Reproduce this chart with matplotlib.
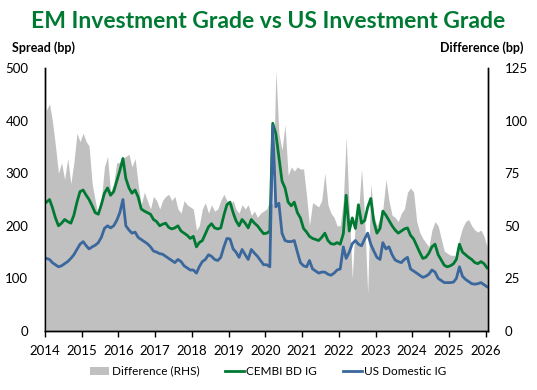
import matplotlib
matplotlib.use("Agg")

import matplotlib.pyplot as plt
import matplotlib.dates as mdates
from matplotlib.patches import Patch
from matplotlib.lines import Line2D
import numpy as np
import pandas as pd

# Monthly readings (mid-month), Jan 2014 .. Jan 2026
dates = pd.date_range("2014-01-01", "2026-01-01", freq="MS") + pd.Timedelta(days=14)

cembi_ig = [
    # 2014
    245, 250, 235, 215, 200, 205, 212, 208, 205, 220, 245, 265,
    # 2015
    268, 258, 250, 238, 225, 222, 240, 262, 272, 258, 265, 285,
    # 2016
    305, 328, 290, 272, 262, 268, 255, 232, 228, 225, 222, 212,
    # 2017
    208, 200, 203, 205, 197, 194, 196, 200, 190, 186, 182, 176,
    # 2018
    180, 160, 168, 172, 185, 198, 204, 196, 194, 196, 220, 240,
    # 2019
    245, 225, 210, 200, 212, 205, 196, 212, 205, 200, 192, 185,
    # 2020
    186, 190, 395, 375, 330, 285, 272, 245, 238, 245, 225, 215,
    # 2021
    195, 188, 180, 176, 174, 172, 178, 186, 172, 166, 165, 168,
    # 2022
    165, 185, 258, 190, 215, 195, 240, 205, 210, 235, 252, 208,
    # 2023
    186, 195, 228, 220, 210, 200, 192, 186, 190, 194, 196, 182,
    # 2024
    175, 162, 150, 138, 140, 148, 160, 165, 145, 135, 125, 122,
    # 2025
    124, 128, 136, 165, 150, 145, 140, 136, 130, 128, 132, 128,
    # 2026
    120,
]

us_ig = [
    138, 136, 130, 126, 122, 124, 128, 132, 138, 145, 155, 165,
    170, 162, 156, 160, 163, 168, 178, 195, 200, 196, 200, 210,
    225, 250, 200, 192, 186, 188, 178, 174, 170, 166, 160, 152,
    150, 147, 146, 142, 138, 134, 130, 136, 132, 124, 120, 116,
    116, 110, 122, 132, 136, 145, 142, 136, 134, 140, 160, 176,
    175, 156, 150, 140, 155, 145, 136, 155, 148, 142, 134, 126,
    126, 122, 390, 236, 243, 186, 172, 170, 170, 172, 150, 130,
    124, 122, 134, 118, 114, 110, 112, 112, 108, 106, 110, 116,
    118, 160, 138, 150, 166, 172, 165, 162, 175, 186, 165, 152,
    140, 136, 168, 156, 160, 145, 135, 132, 130, 136, 140, 118,
    114, 110, 106, 102, 104, 108, 116, 112, 100, 96, 92, 92,
    92, 93, 100, 122, 104, 98, 94, 90, 89, 90, 92, 88,
    84,
]

difference = [
    105, 108, 100, 88, 75, 80, 72, 82, 70, 80, 94, 90,
    94, 90, 88, 70, 62, 55, 62, 78, 83, 66, 70, 80,
    80, 82, 83, 84, 78, 82, 70, 60, 66, 62, 58, 64,
    62, 58, 62, 64, 65, 62, 64, 58, 56, 62, 60, 59,
    58, 48, 50, 58, 61, 56, 60, 57, 58, 62, 65, 62,
    60, 62, 58, 56, 60, 58, 60, 55, 57, 54, 56, 57,
    58, 62, 60, 124, 94, 86, 98, 74, 78, 76, 78, 77,
    77, 64, 50, 61, 60, 59, 62, 75, 60, 56, 54, 50,
    50, 62, 92, 57, 25, 53, 56, 77, 54, 18, 70, 55,
    50, 54, 58, 72, 62, 55, 54, 52, 56, 58, 66, 68,
    66, 52, 47, 44, 42, 40, 48, 52, 50, 44, 38, 37,
    36, 36, 35, 44, 49, 52, 53, 50, 48, 47, 48, 45,
    40,
]

left_ticks = [0, 100, 200, 300, 400, 500]
right_ticks = [0, 25, 50, 75, 100, 125]

GREEN = "#007A33"
BLUE = "#3A679C"
GREY = "#C0C0C0"

plt.rcParams["font.family"] = ["Lato", "DejaVu Sans"]

fig = plt.figure(figsize=(5.37, 3.90), dpi=100)
ax = fig.add_axes([0.0838, 0.1513, 0.825, 0.6743])
ax2 = ax.twinx()

# Difference on the right-hand axis, behind the lines
ax2.fill_between(dates, 0, difference, color=GREY, linewidth=0, step=None)
ax2.set_ylim(0, 125)
ax2.set_yticks(right_ticks)

ax.plot(dates, cembi_ig, color=GREEN, linewidth=2.0)
ax.plot(dates, us_ig, color=BLUE, linewidth=2.0)
ax.set_ylim(0, 500)
ax.set_yticks(left_ticks)

ax.set_zorder(ax2.get_zorder() + 1)
ax.patch.set_visible(False)

ax.set_xlim(pd.Timestamp("2014-01-01"), pd.Timestamp("2026-01-24"))
ax.xaxis.set_major_locator(mdates.YearLocator())
ax.xaxis.set_major_formatter(mdates.DateFormatter("%Y"))

for a in (ax, ax2):
    a.spines["top"].set_visible(False)
    for s in ("left", "right", "bottom"):
        a.spines[s].set_color("black")
        a.spines[s].set_linewidth(1.0)

ax.tick_params(axis="x", direction="out", length=4, width=1, labelsize=9.5, pad=6)
ax.tick_params(axis="y", length=0, labelsize=9.5, pad=12)
ax2.tick_params(axis="y", length=0, labelsize=9.5, pad=12)

fig.text(0.5, 0.945, "EM Investment Grade vs US Investment Grade",
         ha="center", va="center", fontsize=16.5, fontweight="bold", color=GREEN)
fig.text(0.022, 0.878, "Spread (bp)", ha="left", va="center",
         fontsize=9, fontweight="bold")
fig.text(0.975, 0.878, "Difference (bp)", ha="right", va="center",
         fontsize=9, fontweight="bold")

handles = [
    Patch(facecolor=GREY, edgecolor="none"),
    Line2D([], [], color=GREEN, linewidth=2),
    Line2D([], [], color=BLUE, linewidth=2),
]
labels = ["Difference (RHS)", "CEMBI BD IG", "US Domestic IG"]
fig.legend(handles, labels, loc="center", bbox_to_anchor=(0.5, 0.048), ncol=3,
           frameon=False, fontsize=8.5, handlelength=1.6, handletextpad=0.2,
           columnspacing=2.2)

fig.savefig("out.png", dpi=100)
plt.close(fig)
